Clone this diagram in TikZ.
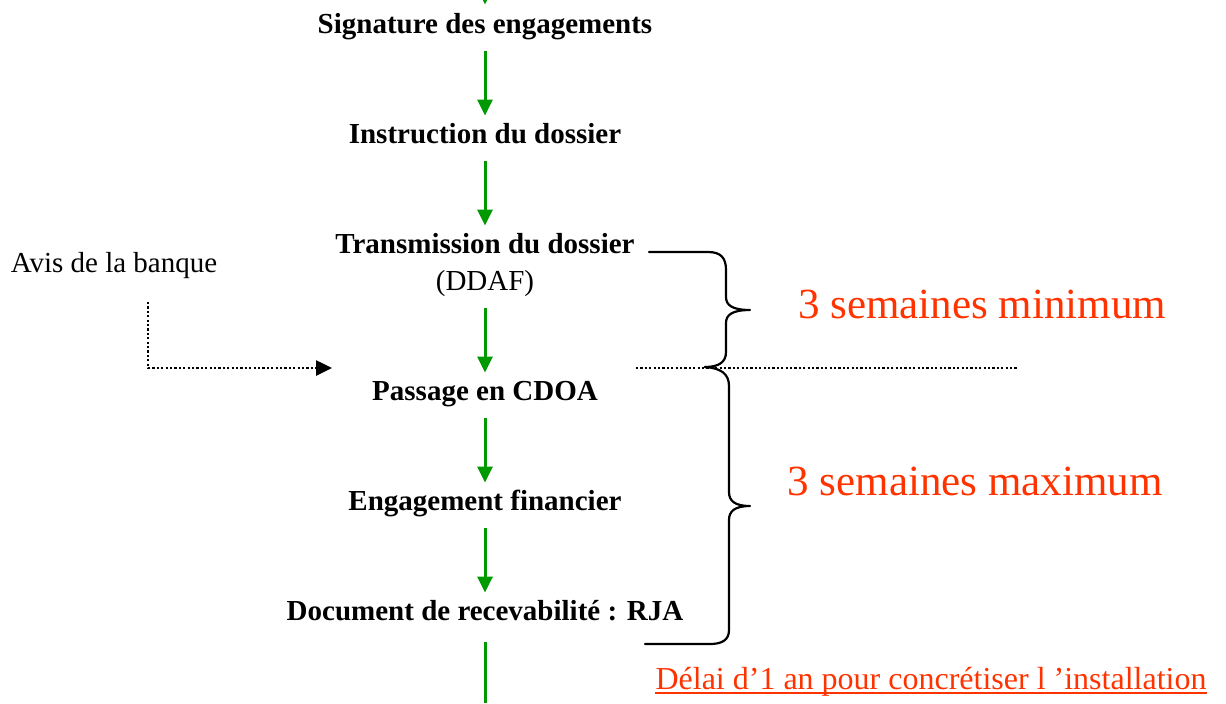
\documentclass[tikz,border=0pt]{standalone}
\usepackage{fontspec}
\setmainfont{Liberation Serif}
\usetikzlibrary{positioning, arrows.meta}
\definecolor{vert}{RGB}{0,153,0}
\definecolor{rouge}{RGB}{255,51,0}
\tikzset{
etape/.style={font=\fontsize{14.5}{17}\selectfont\bfseries, inner sep=0pt, text height=10pt, text depth=3pt}, % each step of the procedure
fleche/.style={-{Triangle[length=8pt,width=7.5pt]}, vert, line width=1.5pt, shorten <=6pt, shorten >=3.5pt}, % green arrows between steps
pointilles/.style={line width=1.3pt, dash pattern=on 1.1pt off 1.1pt}, % dotted lines
accolade/.style={line width=1.1pt, line cap=round, line join=round}, % the two braces
duree/.style={rouge, font=\fontsize{21.5}{25}\selectfont, inner sep=0pt}, % red durations
}
\begin{document}
\begin{tikzpicture}[x=0.5pt, y=-0.5pt, node distance=55pt]
    \useasboundingbox (0,0) rectangle (1226,703);
    \node[etape] (sig) at (485,26) {Signature des engagements};
    \node[etape, below of=sig] (instr) {Instruction du dossier};
    \node[etape, below of=instr] (trans) {Transmission du dossier};
    \node[etape, font=\fontsize{14.5}{17}\selectfont, below of=trans, node distance=18.5pt] (ddaf) {(DDAF)};
    \node[etape, below of=ddaf] (cdoa) {Passage en CDOA};
    \node[etape, below of=cdoa] (engag) {Engagement financier};
    \node[etape, below of=engag] (rja) {Document de recevabilité : RJA};
    \coordinate[above of=sig, node distance=40pt] (debut);
    \coordinate[below of=rja, node distance=45pt] (fin);
    \node[etape, font=\fontsize{14.5}{17}\selectfont] (avis) at (114,265) {Avis de la banque};
    \coordinate (ga) at (148,302);
    \coordinate (gb) at (332,368);
    \coordinate (pa) at (636,368);
    \coordinate (pb) at (1018,368);
    \node[duree, anchor=base] (mini) at (982,318) {3 semaines minimum};
    \node[duree, anchor=base] (maxi) at (975,495) {3 semaines maximum};
    \node[rouge, font=\fontsize{16}{19}\selectfont, inner sep=0pt, anchor=base] (an) at (931,689) {Délai d’1 an pour concrétiser l ’installation};
    % arrows
    \draw[fleche, shorten >=4pt] (debut) -- (sig);
    \foreach \a/\b in {sig/instr, instr/trans, ddaf/cdoa, cdoa/engag, engag/rja}
        \draw[fleche] (\a) -- (\b);
    \draw[vert, line width=1.5pt, shorten <=8pt] (rja) -- (fin);
    \draw[pointilles, -{Triangle[length=8pt,width=7.5pt]}] (ga) |- (gb);
    \draw[pointilles, line width=0.9pt] (pa) -- (pb);
    % braces
    \draw[accolade] (649,252) -- (708,252) .. controls (721,252) and (726,258) .. (726,270) -- (726,297)
        .. controls (726,305) and (732,310) .. (750,310) .. controls (732,310) and (726,315) .. (726,323)
        -- (726,352) .. controls (726,362) and (719,367) .. (705,367);
    \draw[accolade] (705,367) .. controls (721,368) and (729,374) .. (729,386) -- (729,492)
        .. controls (729,501) and (735,506) .. (750,506) .. controls (735,506) and (729,511) .. (729,520)
        -- (729,630) .. controls (729,640) and (722,644) .. (710,644) -- (645,644);
    \draw[rouge, line width=1pt] ([yshift=-2pt]an.base west) -- ([yshift=-2pt]an.base east);
\end{tikzpicture}
\end{document}
